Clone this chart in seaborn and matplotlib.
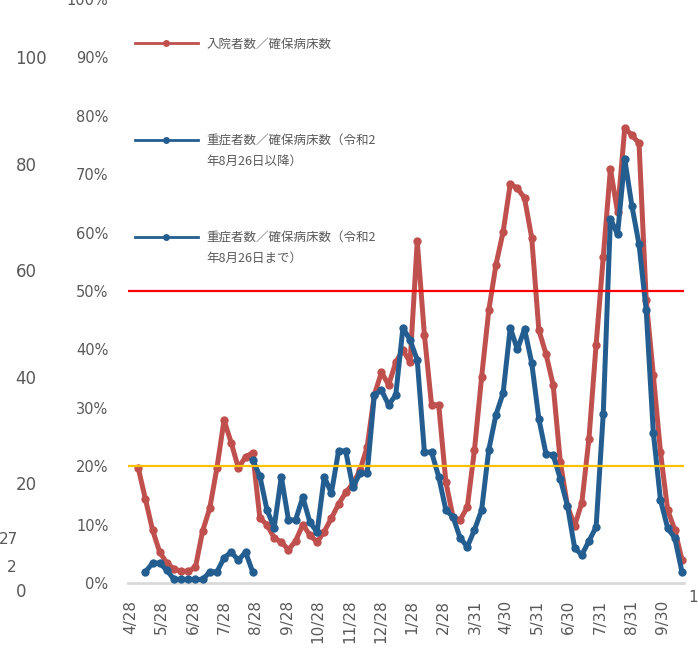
import numpy as np
import pandas as pd
import matplotlib
matplotlib.use("Agg")
import matplotlib.pyplot as plt
from matplotlib.lines import Line2D
from matplotlib.ticker import PercentFormatter, MultipleLocator
import seaborn as sns

# weekly figures (%), first week 2020-05-05
first_week = "2020-05-05"
hosp_rate = [19.7, 14.4, 9.1, 5.3, 3.4, 2.4, 2.0, 2.0, 2.7, 8.9,
             12.8, 19.7, 27.9, 24.0, 19.7, 21.6, 22.3, 11.1, 10.0, 7.7,
             7.0, 5.7, 7.2, 10.0, 8.2, 7.0, 8.8, 11.1, 13.5, 15.5,
             17.0, 19.3, 23.3, 32.2, 36.1, 33.9, 37.8, 39.9, 37.8, 58.5,
             42.5, 30.5, 30.5, 17.3, 11.3, 10.8, 13.0, 22.8, 35.3, 46.7,
             54.5, 60.1, 68.3, 67.6, 65.9, 59.1, 43.3, 39.2, 33.9, 20.7,
             13.2, 9.8, 13.7, 24.7, 40.8, 55.8, 70.9, 63.5, 77.9, 76.7,
             75.3, 48.5, 35.6, 22.4, 12.5, 9.1, 4.0]
# severe / beds, until 2020-08-26 (weeks 1..16)
severe_before = [1.9, 3.4, 3.4, 2.2, 0.6, 0.6, 0.6, 0.6, 0.6, 1.9,
                 1.9, 4.3, 5.3, 3.9, 5.3, 1.9]
# severe / beds, from 2020-08-26 (weeks 16..76)
severe_after = [21.1, 18.3, 12.5, 9.5, 18.2, 10.8, 10.8, 14.7, 10.4, 8.7,
                18.2, 15.4, 22.6, 22.6, 16.4, 18.8, 18.8, 32.2, 33.0, 30.5,
                32.2, 43.7, 41.6, 38.2, 22.4, 22.4, 18.2, 12.5, 11.3, 7.7,
                6.2, 9.1, 12.5, 22.8, 28.8, 32.5, 43.7, 40.0, 43.5, 37.7,
                28.1, 22.1, 21.9, 17.8, 13.2, 6.0, 4.8, 7.2, 9.6, 29.0,
                62.4, 59.7, 72.6, 64.6, 58.0, 46.7, 25.7, 14.2, 9.4, 7.7,
                1.9]

tick_dates = ["2020-04-28", "2020-05-28", "2020-06-28", "2020-07-28",
              "2020-08-28", "2020-09-28", "2020-10-28", "2020-11-28",
              "2020-12-28", "2021-01-28", "2021-02-28", "2021-03-31",
              "2021-04-30", "2021-05-31", "2021-06-30", "2021-07-31",
              "2021-08-31", "2021-09-30"]
tick_labels = ["4/28", "5/28", "6/28", "7/28", "8/28", "9/28", "10/28",
               "11/28", "12/28", "1/28", "2/28", "3/31", "4/30", "5/31",
               "6/30", "7/31", "8/31", "9/30"]
count_ticks = [0, 20, 40, 60, 80, 100]

labels = ["入院者数／確保病床数",
          "重症者数／確保病床数（令和2\n年8月26日以降）",
          "重症者数／確保病床数（令和2\n年8月26日まで）"]

red = "#C0504D"
blue = "#245E91"
grey = "#595959"

origin = pd.Timestamp("2020-04-28")
weeks = pd.date_range(first_week, periods=len(hosp_rate), freq="7D")
days = np.array((weeks - origin).days)
tick_x = [(pd.Timestamp(d) - origin).days for d in tick_dates]

hosp = np.array(hosp_rate) / 100
sev_b = np.array(severe_before) / 100
sev_a = np.array(severe_after) / 100

plt.rcParams["font.family"] = ["DejaVu Sans", "Noto Sans CJK JP"]

W, H = 698, 656
fig = plt.figure(figsize=(W / 100, H / 100), dpi=100)
ax = fig.add_axes([128 / W, 73 / H, 556 / W, 584 / H])

line_kw = dict(linewidth=3.6, marker="o", markersize=6, markeredgewidth=0,
               clip_on=False, legend=False, ax=ax)
sns.lineplot(x=days, y=hosp, color=red, zorder=3, **line_kw)
sns.lineplot(x=days[16:16 + len(sev_a)], y=sev_a, color=blue, zorder=4, **line_kw)
sns.lineplot(x=days[1:1 + len(sev_b)], y=sev_b, color=blue, zorder=4, **line_kw)

ax.axhline(0.5, color="#FF0000", lw=1.6, zorder=5)
ax.axhline(0.2, color="#FFC000", lw=1.6, zorder=5)

ax.set_xlim(-3, 541)
ax.set_ylim(0, 1.0)
ax.yaxis.set_major_locator(MultipleLocator(0.1))
ax.yaxis.set_major_formatter(PercentFormatter(1.0, decimals=0))
ax.set_xticks(tick_x)
ax.set_xticklabels(tick_labels, rotation=90)
ax.tick_params(axis="x", length=0, pad=12, labelsize=11, colors=grey)
ax.tick_params(axis="y", length=0, pad=14, labelsize=10.5, colors=grey)
ax.set_xlabel("")
ax.set_ylabel("")
for s in ["top", "right", "left"]:
    ax.spines[s].set_visible(False)
ax.spines["bottom"].set_color("#D9D9D9")
ax.spines["bottom"].set_linewidth(2)
ax.spines["bottom"].set_zorder(2)

# outer count axis on the left (0 sits a little below the % axis zero)
ax2 = fig.add_axes([128 / W, 61 / H, 556 / W, 596 / H])
ax2.patch.set_visible(False)
ax2.set_ylim(-0.94, 110.9)
ax2.set_yticks(count_ticks)
ax2.xaxis.set_visible(False)
ax2.tick_params(axis="y", length=0, pad=81, labelsize=12, colors=grey)
for t in ax2.get_yticklabels():
    t.set_horizontalalignment("left")
for s in ax2.spines.values():
    s.set_visible(False)

# legends
leg_font = {"family": ["Noto Sans CJK JP", "DejaVu Sans"], "size": 9}
h_red = Line2D([], [], color=red, lw=2, marker="o", ms=5, mew=0)
h_blue = Line2D([], [], color=blue, lw=2, marker="o", ms=5, mew=0)
h_none = Line2D([], [], color="none")
leg_kw = dict(frameon=False, loc="center left", borderpad=0, borderaxespad=0,
              handlelength=5.0, handletextpad=0.7, labelspacing=0.6,
              prop=leg_font, labelcolor=grey, bbox_transform=fig.transFigure)
leg1 = ax2.legend([h_red], [labels[0]], bbox_to_anchor=(135 / W, 1 - 44 / H), **leg_kw)
ax2.add_artist(leg1)
l2a, l2b = labels[1].split("\n")
leg2 = ax2.legend([h_blue, h_none], [l2a, l2b], bbox_to_anchor=(135 / W, 1 - 151 / H), **leg_kw)
ax2.add_artist(leg2)
l3a, l3b = labels[2].split("\n")
ax2.legend([h_blue, h_none], [l3a, l3b], bbox_to_anchor=(135 / W, 1 - 248 / H), **leg_kw)

# stray labels visible at the edges of the original
fig.text(-1 / W, 1 - 540 / H, "27", fontsize=11, color=grey, va="center", ha="left")
fig.text(7 / W, 1 - 568 / H, "2", fontsize=11, color=grey, va="center", ha="left")
fig.text(688 / W, 1 - 597 / H, "1", fontsize=11, color=grey, va="center", ha="left")

fig.savefig("out.png", dpi=100)
